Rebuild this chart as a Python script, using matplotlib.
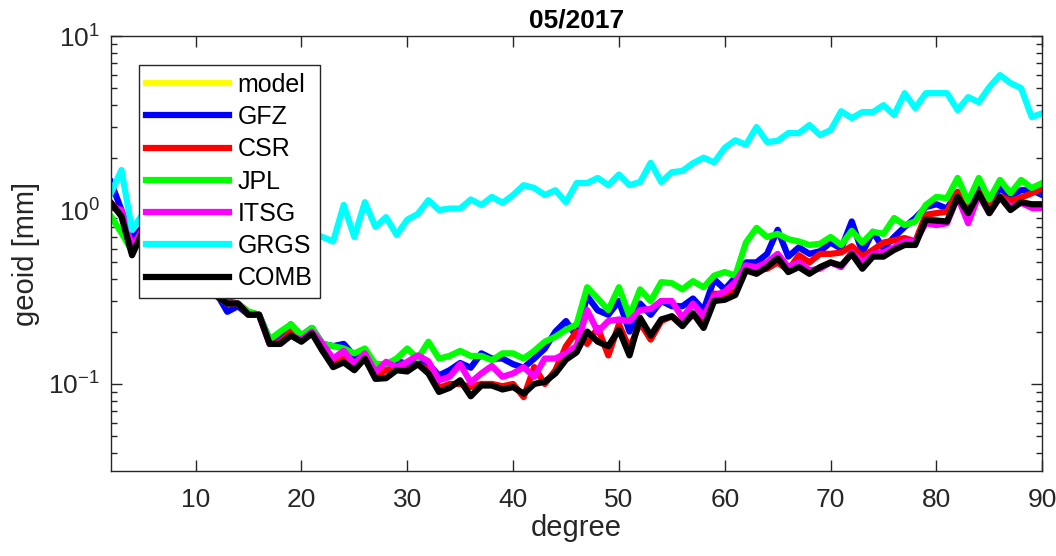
import matplotlib
matplotlib.use('Agg')
import matplotlib.pyplot as plt
from matplotlib.ticker import LogLocator, NullFormatter

plt.rcParams['font.family'] = ['Liberation Sans', 'DejaVu Sans']

degree = list(range(2, 91))

# values (geoid, mm); degrees 5-12 sit behind the legend
model = []
gfz = [1.45, 1.0, 0.68, 0.8, 0.68, 0.6, 0.52, 0.47, 0.42, 0.37, 0.33, 0.26, 0.28, 0.25, 0.25,
       0.18, 0.18, 0.22, 0.19, 0.21, 0.17, 0.165, 0.17, 0.145, 0.15, 0.122, 0.125, 0.136, 0.13,
       0.14, 0.13, 0.112, 0.12, 0.132, 0.124, 0.15, 0.14, 0.14, 0.13, 0.124, 0.14, 0.16, 0.2,
       0.23, 0.187, 0.32, 0.265, 0.25, 0.3, 0.2, 0.29, 0.25, 0.3, 0.28, 0.28, 0.31, 0.266, 0.4,
       0.35, 0.41, 0.5, 0.5, 0.56, 0.77, 0.54, 0.61, 0.56, 0.58, 0.65, 0.6, 0.86, 0.57, 0.75,
       0.6, 0.7, 0.8, 0.9, 1.04, 1.08, 1.02, 1.27, 1.04, 1.34, 1.08, 1.34, 1.2, 1.3, 1.3, 1.22]
csr = [1.1, 0.95, 0.6, 0.78, 0.64, 0.57, 0.5, 0.46, 0.41, 0.36, 0.32, 0.3, 0.29, 0.26, 0.25,
       0.17, 0.175, 0.2, 0.18, 0.2, 0.155, 0.13, 0.14, 0.125, 0.14, 0.11, 0.12, 0.125, 0.12,
       0.13, 0.12, 0.095, 0.1, 0.1, 0.096, 0.1, 0.1, 0.097, 0.1, 0.084, 0.125, 0.1, 0.12, 0.165,
       0.2, 0.17, 0.21, 0.146, 0.22, 0.16, 0.225, 0.18, 0.23, 0.245, 0.22, 0.25, 0.23, 0.33,
       0.33, 0.34, 0.46, 0.45, 0.46, 0.5, 0.45, 0.55, 0.5, 0.56, 0.56, 0.57, 0.62, 0.54, 0.59,
       0.65, 0.67, 0.69, 0.66, 0.94, 0.96, 0.98, 1.27, 0.98, 1.27, 1.1, 1.2, 1.13, 1.18, 1.25, 1.34]
jpl = [0.92, 0.74, 0.58, 0.7, 0.62, 0.55, 0.5, 0.45, 0.4, 0.36, 0.32, 0.29, 0.29, 0.26, 0.25,
       0.18, 0.2, 0.22, 0.19, 0.21, 0.17, 0.165, 0.16, 0.15, 0.16, 0.13, 0.13, 0.14, 0.16, 0.14,
       0.175, 0.14, 0.145, 0.155, 0.145, 0.145, 0.137, 0.15, 0.15, 0.14, 0.155, 0.175, 0.187,
       0.205, 0.22, 0.36, 0.31, 0.266, 0.36, 0.245, 0.35, 0.3, 0.385, 0.38, 0.35, 0.39, 0.36,
       0.42, 0.44, 0.42, 0.65, 0.79, 0.7, 0.73, 0.68, 0.66, 0.63, 0.64, 0.7, 0.63, 0.76, 0.65,
       0.75, 0.73, 0.9, 0.82, 0.86, 1.07, 1.19, 1.17, 1.53, 1.12, 1.53, 1.15, 1.49, 1.25, 1.49,
       1.34, 1.43]
itsg = [1.05, 1.0, 0.62, 0.76, 0.65, 0.57, 0.51, 0.46, 0.41, 0.36, 0.32, 0.29, 0.29, 0.25, 0.25,
        0.17, 0.17, 0.19, 0.18, 0.2, 0.17, 0.14, 0.155, 0.13, 0.15, 0.117, 0.134, 0.125, 0.134,
        0.146, 0.135, 0.105, 0.11, 0.13, 0.102, 0.115, 0.127, 0.11, 0.115, 0.125, 0.11, 0.14,
        0.14, 0.15, 0.165, 0.266, 0.2, 0.23, 0.235, 0.23, 0.266, 0.27, 0.3, 0.3, 0.24, 0.29,
        0.245, 0.32, 0.34, 0.385, 0.48, 0.47, 0.5, 0.56, 0.47, 0.5, 0.45, 0.46, 0.5, 0.47, 0.57,
        0.5, 0.56, 0.57, 0.61, 0.66, 0.66, 0.84, 0.82, 0.84, 1.19, 0.84, 1.22, 0.96, 1.19, 1.04,
        1.1, 1.03, 1.03]
grgs = [1.25, 1.7, 0.77, 0.95, 0.85, 0.8, 0.75, 0.72, 0.7, 0.68, 0.7, 0.66, 0.7, 0.68, 0.66,
        0.7, 0.68, 0.7, 0.68, 0.72, 0.7, 0.66, 1.07, 0.7, 1.11, 0.8, 0.91, 0.72, 0.88, 0.95, 1.14,
        1.0, 1.02, 1.02, 1.15, 1.07, 1.19, 1.1, 1.22, 1.39, 1.34, 1.22, 1.3, 1.11, 1.43, 1.43,
        1.53, 1.39, 1.6, 1.39, 1.45, 1.87, 1.45, 1.65, 1.68, 1.86, 2.0, 1.88, 2.28, 2.52, 2.37,
        3.0, 2.46, 2.5, 2.77, 2.77, 3.08, 2.7, 2.88, 3.7, 3.38, 3.66, 3.66, 4.01, 3.52, 4.7, 3.86,
        4.7, 4.7, 4.7, 3.76, 4.46, 4.17, 5.1, 5.97, 5.37, 5.02, 3.43, 3.6]
comb = [1.1, 0.92, 0.55, 0.75, 0.62, 0.55, 0.5, 0.45, 0.4, 0.36, 0.32, 0.29, 0.29, 0.25, 0.25,
        0.17, 0.17, 0.19, 0.175, 0.195, 0.155, 0.125, 0.133, 0.12, 0.14, 0.107, 0.108, 0.12,
        0.118, 0.13, 0.115, 0.09, 0.095, 0.105, 0.085, 0.098, 0.098, 0.093, 0.096, 0.088, 0.1,
        0.103, 0.115, 0.138, 0.152, 0.2, 0.175, 0.165, 0.205, 0.146, 0.24, 0.19, 0.235, 0.245,
        0.215, 0.255, 0.21, 0.3, 0.305, 0.325, 0.45, 0.43, 0.47, 0.53, 0.44, 0.47, 0.43, 0.47,
        0.5, 0.48, 0.56, 0.46, 0.54, 0.54, 0.59, 0.63, 0.63, 0.88, 0.87, 0.86, 1.19, 0.96, 1.25,
        0.96, 1.19, 1.0, 1.11, 1.08, 1.08]

names = ['model', 'GFZ', 'CSR', 'JPL', 'ITSG', 'GRGS', 'COMB']
colors = ['#ffff00', '#0000ff', '#ff0000', '#00ff00', '#ff00ff', '#00ffff', '#000000']

fig = plt.figure(figsize=(10.56, 5.56), dpi=100)
ax = fig.add_axes([0.105, 0.153, 0.882, 0.782])

ax.plot([], [], color=colors[0], lw=4.5, label=names[0])
for vals, name, col in zip([gfz, csr, jpl, itsg, grgs, comb], names[1:], colors[1:]):
    ax.plot(degree, vals, color=col, lw=4.5, label=name)

ax.set_yscale('log')
ax.set_xlim(2, 90)
ax.set_ylim(10 ** -1.5, 10)
ax.set_xticks(range(10, 91, 10))
ax.yaxis.set_major_locator(LogLocator(base=10, numticks=10))
ax.yaxis.set_minor_locator(LogLocator(base=10, subs=range(2, 10), numticks=10))
ax.yaxis.set_minor_formatter(NullFormatter())

ax.tick_params(which='both', direction='in', top=True, right=True, colors='#262626',
               labelcolor='#262626', labelsize=19)
ax.tick_params(which='major', length=8, width=1)
ax.tick_params(which='minor', length=4, width=1)
ax.tick_params(axis='x', pad=12)
ax.tick_params(axis='y', pad=8)
for s in ax.spines.values():
    s.set_color('#262626')
    s.set_linewidth(1)

ax.set_xlabel('degree', fontsize=21, color='#262626', labelpad=2)
ax.set_ylabel('geoid [mm]', fontsize=21, color='#262626', labelpad=6)
ax.set_title('05/2017', fontsize=19, fontweight='bold', pad=6)

leg = ax.legend(loc='upper left', bbox_to_anchor=(0.030, 0.933), borderaxespad=0,
                fontsize=18, handlelength=3.3, labelspacing=0.33, fancybox=False,
                framealpha=1, edgecolor='#262626', borderpad=0.3, handletextpad=0.35)
leg.get_frame().set_linewidth(1)

fig.savefig('out.png', dpi=100, facecolor='white')
